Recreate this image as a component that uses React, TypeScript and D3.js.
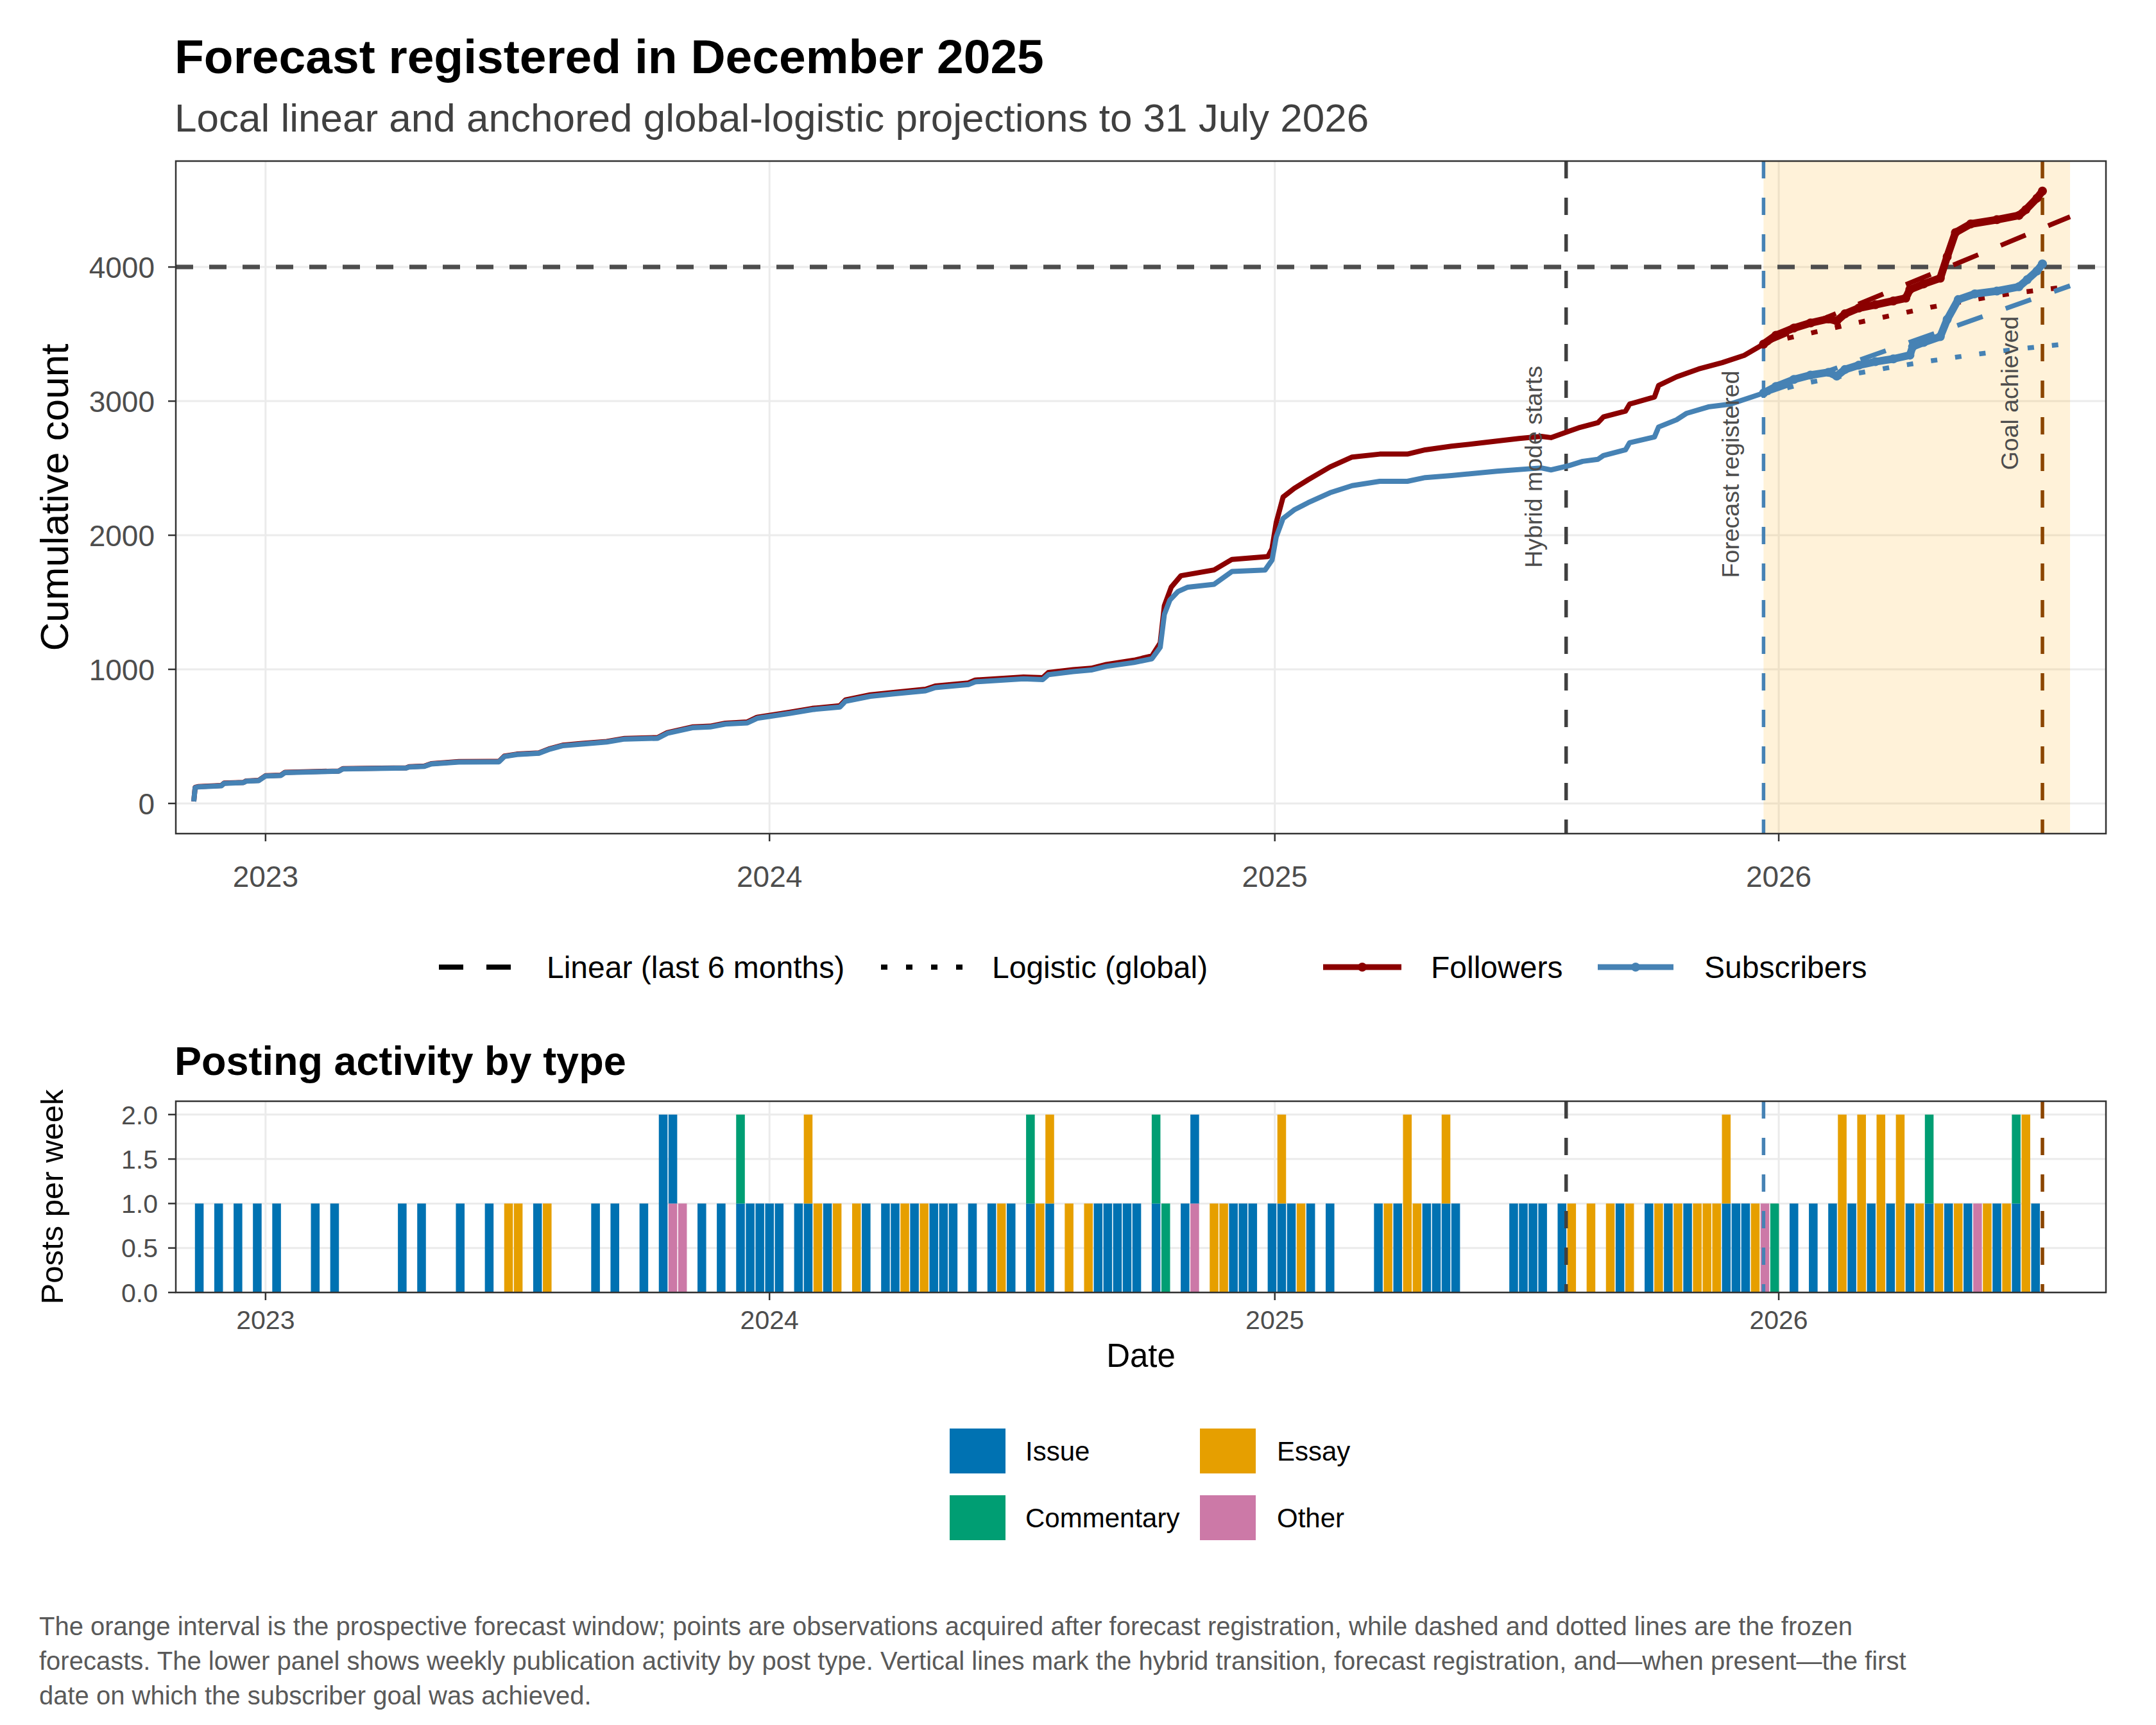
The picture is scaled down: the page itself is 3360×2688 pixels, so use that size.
import React from 'react';
import * as d3 from 'd3';

const W = 3360;
const H = 2688;
const FONT = '"Liberation Sans", Arial, Helvetica, sans-serif';

// cumulative counts
const subscriberObs: [string, number][] = [
  ['2022-11-10', 15], ['2022-11-11', 118], ['2022-11-13', 123], ['2022-11-30', 132],
  ['2022-12-02', 150], ['2022-12-16', 155], ['2022-12-18', 166], ['2022-12-27', 170],
  ['2023-01-01', 205], ['2023-01-12', 208], ['2023-01-15', 230], ['2023-02-23', 240],
  ['2023-02-26', 257], ['2023-04-13', 264], ['2023-04-15', 272], ['2023-04-26', 276],
  ['2023-05-01', 294], ['2023-05-21', 309], ['2023-06-19', 310], ['2023-06-23', 350],
  ['2023-07-02', 365], ['2023-07-18', 374], ['2023-07-26', 405], ['2023-08-04', 430],
  ['2023-08-18', 443], ['2023-09-05', 458], ['2023-09-18', 480], ['2023-10-12', 486],
  ['2023-10-19', 523], ['2023-11-06', 564], ['2023-11-19', 570], ['2023-11-30', 592],
  ['2023-12-16', 601], ['2023-12-23', 635], ['2024-01-16', 672], ['2024-02-01', 700],
  ['2024-02-21', 719], ['2024-02-25', 762], ['2024-03-14', 799], ['2024-04-01', 818],
  ['2024-04-23', 840], ['2024-04-30', 864], ['2024-05-24', 886], ['2024-05-29', 907],
  ['2024-07-03', 929], ['2024-07-17', 924], ['2024-07-21', 961], ['2024-08-08', 983],
  ['2024-08-21', 995], ['2024-09-01', 1022], ['2024-09-21', 1051], ['2024-10-04', 1079],
  ['2024-10-10', 1164], ['2024-10-13', 1410], ['2024-10-17', 1517], ['2024-10-23', 1581],
  ['2024-10-30', 1613], ['2024-11-18', 1634], ['2024-12-01', 1730], ['2024-12-25', 1741],
  ['2024-12-30', 1815], ['2025-01-02', 1986], ['2025-01-07', 2125], ['2025-01-15', 2189],
  ['2025-01-25', 2242], ['2025-02-10', 2317], ['2025-02-26', 2370], ['2025-03-18', 2402],
  ['2025-04-07', 2402], ['2025-04-20', 2430], ['2025-05-09', 2445], ['2025-06-11', 2477],
  ['2025-07-13', 2502], ['2025-07-20', 2487], ['2025-08-02', 2519], ['2025-08-12', 2551],
  ['2025-08-23', 2566], ['2025-08-27', 2594], ['2025-09-12', 2637], ['2025-09-15', 2690],
  ['2025-10-03', 2733], ['2025-10-06', 2807], ['2025-10-19', 2861], ['2025-10-26', 2908],
  ['2025-11-11', 2957], ['2025-11-27', 2978], ['2025-12-14', 3036], ['2025-12-21', 3060],
  ['2025-12-30', 3109], ['2026-01-12', 3162], ['2026-01-24', 3194], ['2026-02-06', 3215],
  ['2026-02-12', 3187], ['2026-02-18', 3236], ['2026-02-28', 3268], ['2026-03-12', 3294],
  ['2026-03-25', 3315], ['2026-04-06', 3343], ['2026-04-08', 3406], ['2026-04-16', 3438],
  ['2026-04-28', 3481], ['2026-05-03', 3609], ['2026-05-11', 3757], ['2026-05-23', 3800],
  ['2026-06-08', 3821], ['2026-06-24', 3853], ['2026-06-30', 3906], ['2026-07-07', 3970],
  ['2026-07-11', 4023],
];

const followerObs: [string, number][] = [
  ['2022-11-10', 15], ['2022-11-11', 120], ['2022-11-13', 125], ['2022-11-30', 134],
  ['2022-12-02', 152], ['2022-12-16', 157], ['2022-12-18', 168], ['2022-12-27', 172],
  ['2023-01-01', 207], ['2023-01-12', 210], ['2023-01-15', 232], ['2023-02-23', 242],
  ['2023-02-26', 259], ['2023-04-13', 266], ['2023-04-15', 274], ['2023-04-26', 279],
  ['2023-05-01', 297], ['2023-05-21', 312], ['2023-06-19', 313], ['2023-06-23', 353],
  ['2023-07-02', 368], ['2023-07-18', 377], ['2023-07-26', 409], ['2023-08-04', 434],
  ['2023-08-18', 447], ['2023-09-05', 462], ['2023-09-18', 485], ['2023-10-12', 491],
  ['2023-10-19', 528], ['2023-11-06', 570], ['2023-11-19', 576], ['2023-11-30', 598],
  ['2023-12-16', 608], ['2023-12-23', 643], ['2024-01-16', 681], ['2024-02-01', 709],
  ['2024-02-21', 729], ['2024-02-25', 772], ['2024-03-14', 810], ['2024-04-01', 829],
  ['2024-04-23', 852], ['2024-04-30', 876], ['2024-05-24', 899], ['2024-05-29', 920],
  ['2024-07-03', 943], ['2024-07-17', 938], ['2024-07-21', 976], ['2024-08-08', 998],
  ['2024-08-21', 1008], ['2024-09-01', 1036], ['2024-09-21', 1068], ['2024-10-04', 1100],
  ['2024-10-10', 1197], ['2024-10-13', 1474], ['2024-10-18', 1613], ['2024-10-25', 1698],
  ['2024-11-18', 1741], ['2024-12-01', 1820], ['2024-12-27', 1841], ['2024-12-30', 1901],
  ['2025-01-02', 2093], ['2025-01-07', 2285], ['2025-01-15', 2349], ['2025-01-25', 2413],
  ['2025-02-10', 2509], ['2025-02-26', 2583], ['2025-03-18', 2605], ['2025-04-07', 2605],
  ['2025-04-20', 2637], ['2025-05-09', 2664], ['2025-06-01', 2690], ['2025-06-27', 2722],
  ['2025-07-13', 2737], ['2025-07-20', 2728], ['2025-08-02', 2775], ['2025-08-09', 2801],
  ['2025-08-23', 2839], ['2025-08-27', 2882], ['2025-09-12', 2925], ['2025-09-15', 2978],
  ['2025-10-03', 3031], ['2025-10-06', 3117], ['2025-10-19', 3181], ['2025-11-04', 3240],
  ['2025-11-21', 3287], ['2025-12-07', 3341], ['2025-12-21', 3425], ['2025-12-30', 3491],
  ['2026-01-12', 3545], ['2026-01-24', 3583], ['2026-02-06', 3613], ['2026-02-12', 3598],
  ['2026-02-18', 3651], ['2026-02-28', 3694], ['2026-03-12', 3719], ['2026-03-25', 3747],
  ['2026-04-03', 3768], ['2026-04-06', 3832], ['2026-04-16', 3874], ['2026-04-28', 3917],
  ['2026-05-03', 4077], ['2026-05-09', 4257], ['2026-05-20', 4321], ['2026-06-08', 4353],
  ['2026-06-24', 4385], ['2026-06-29', 4428], ['2026-07-07', 4513], ['2026-07-11', 4566],
];

// frozen forecasts
const linearFollowers: [string, number][] = [['2025-12-21', 3430], ['2026-07-31', 4375]];
const linearSubscribers: [string, number][] = [['2025-12-21', 3055], ['2026-07-31', 3860]];
const logisticFollowers: [string, number][] = [
  ['2025-12-21', 3430], ['2026-01-21', 3500], ['2026-02-20', 3570], ['2026-03-22', 3635],
  ['2026-04-21', 3700], ['2026-05-21', 3755], ['2026-06-20', 3805], ['2026-07-31', 3855],
];
const logisticSubscribers: [string, number][] = [
  ['2025-12-21', 3055], ['2026-01-21', 3135], ['2026-02-20', 3195], ['2026-03-22', 3250],
  ['2026-04-21', 3300], ['2026-05-21', 3345], ['2026-06-20', 3385], ['2026-07-31', 3430],
];

const goalValue = 4000;
const hybridDate = '2025-07-31';
const forecastDate = '2025-12-21';
const goalDate = '2026-07-11';
const windowEnd = '2026-07-31';

// weekly posts from the first week on; each letter is one post
// I = Issue, E = Essay, C = Commentary, O = Other
const firstWeek = '2022-11-14';
const weeklyPosts: string[] = [
  'I', '', 'I', '', 'I', '', 'I', '', 'I', '', '', '', 'I', '', 'I', '', '', '', '', '',
  '', 'I', '', 'I', '', '', '', 'I', '', '', 'I', '', 'E', 'E', '', 'I', 'E', '', '', '',
  '', 'I', '', 'I', '', '', 'I', '', 'II', 'OI', 'O', '', 'I', '', 'I', '', 'IC', 'I', 'I', 'I',
  'I', '', 'I', 'IE', 'E', 'I', 'E', '', 'E', 'I', '', 'I', 'I', 'E', 'I', 'E', 'I', 'I', 'I', '',
  'I', '', 'I', 'E', 'I', '', 'IC', 'E', 'IE', '', 'E', '', 'E', 'I', 'I', 'I', 'I', 'I', '', 'IC',
  'C', '', 'I', 'OI', '', 'E', 'E', 'I', 'I', 'I', '', 'I', 'IE', 'I', 'E', 'I', '', 'I', '', '',
  '', '', 'I', 'E', 'I', 'EE', 'E', 'I', 'I', 'IE', 'I', '', '', '', '', '', 'I', 'I', 'I', 'I',
  '', 'I', 'E', '', 'E', '', 'E', 'I', 'E', '', 'I', 'E', 'I', 'E', 'I', 'E', 'E', 'E', 'IE', 'I',
  'I', 'E', 'O', 'C', '', 'I', '', 'I', '', 'I', 'EE', 'I', 'EE', 'I', 'EE', 'I', 'EE', 'I', 'E', 'IC',
  'E', 'I', 'E', 'I', 'O', 'E', 'I', 'E', 'IC', 'EE', 'I',
];

const typeCodes: Record<string, string> = { I: 'Issue', E: 'Essay', C: 'Commentary', O: 'Other' };
const stackOrder = ['Other', 'Issue', 'Essay', 'Commentary']; // bottom to top
const typeColors: Record<string, string> = {
  Issue: '#0072B2', Essay: '#E69F00', Commentary: '#009E73', Other: '#CC79A7',
};
const legendRows = [['Issue', 'Essay'], ['Commentary', 'Other']];

const yearTicks = ['2023-01-01', '2024-01-01', '2025-01-01', '2026-01-01'];
const countTicks = [0, 1000, 2000, 3000, 4000];
const postTicks = [0, 0.5, 1, 1.5, 2];

const captionLines = [
  'The orange interval is the prospective forecast window; points are observations acquired after forecast registration, while dashed and dotted lines are the frozen',
  'forecasts. The lower panel shows weekly publication activity by post type. Vertical lines mark the hybrid transition, forecast registration, and\u2014when present\u2014the first',
  'date on which the subscriber goal was achieved.',
];

const RED = '#8B0000';
const BLUE = '#4682B4';
const GOAL = '#8B4500';
const HYBRID = '#404040';

const parse = d3.utcParse('%Y-%m-%d');
const toDate = (s: string) => parse(s) as Date;

const TOP = { left: 274, right: 3282, top: 251, bottom: 1299 };
const BOT = { left: 274, right: 3282, top: 1716, bottom: 2014 };

const App: React.FC = () => {
  const x = d3.scaleUtc()
    .domain([toDate('2022-10-28'), toDate('2026-08-26')])
    .range([TOP.left, TOP.right]);
  const yTop = d3.scaleLinear().domain([-225, 4790]).range([TOP.bottom, TOP.top]);
  const yBot = d3.scaleLinear().domain([0, 2.15]).range([BOT.bottom, BOT.top]);

  const line = d3.line<[string, number]>()
    .x(d => x(toDate(d[0])))
    .y(d => yTop(d[1]));

  const fDate = toDate(forecastDate);
  const inWindow = (rows: [string, number][]) => rows.filter(r => toDate(r[0]) >= fDate);

  // weekly table for the stack
  const weekRows = weeklyPosts.map((code, i) => {
    const row: any = { week: d3.utcDay.offset(toDate(firstWeek), 7 * i) };
    stackOrder.forEach(t => { row[t] = 0; });
    for (const ch of code) row[typeCodes[ch]] += 1;
    return row;
  });
  const stacked = d3.stack<any>().keys(stackOrder)(weekRows);
  const barW = (x(toDate('2023-01-08')) - x(toDate('2023-01-01'))) * 0.9;

  const vlines = [
    { date: hybridDate, color: HYBRID, label: 'Hybrid mode starts', labelY: 2510 },
    { date: forecastDate, color: BLUE, label: 'Forecast registered', labelY: 2455 },
    { date: goalDate, color: GOAL, label: 'Goal achieved', labelY: 3060 },
  ];

  return (
    <svg width={W} height={H} style={{ position: 'absolute', left: 0, top: 0, background: '#fff' }}
      fontFamily={FONT}>
      <rect width={W} height={H} fill="#fff" />

      {/* titles */}
      <text x={272} y={114} fontSize={75} fontWeight="bold" fill="#000">Forecast registered in December 2025</text>
      <text x={272} y={205} fontSize={62} fill="#404040">Local linear and anchored global-logistic projections to 31 July 2026</text>

      {/* ---------- top panel ---------- */}
      <g>
        {countTicks.map(t => (
          <line key={'gy' + t} x1={TOP.left} x2={TOP.right} y1={yTop(t)} y2={yTop(t)} stroke="#EBEBEB" strokeWidth={3} />
        ))}
        {yearTicks.map(t => (
          <line key={'gx' + t} x1={x(toDate(t))} x2={x(toDate(t))} y1={TOP.top} y2={TOP.bottom} stroke="#EBEBEB" strokeWidth={3} />
        ))}
        <rect x={x(fDate)} y={TOP.top} width={x(toDate(windowEnd)) - x(fDate)} height={TOP.bottom - TOP.top}
          fill="#FFA500" fillOpacity={0.15} />
        <line x1={TOP.left} x2={TOP.right} y1={yTop(goalValue)} y2={yTop(goalValue)}
          stroke="#4D4D4D" strokeWidth={7} strokeDasharray="27 25" />
        {vlines.map(v => (
          <line key={'v' + v.date} x1={x(toDate(v.date))} x2={x(toDate(v.date))} y1={TOP.top} y2={TOP.bottom}
            stroke={v.color} strokeWidth={5.5} strokeDasharray="27 30" />
        ))}

        {/* observed series */}
        <path d={line(followerObs) || ''} fill="none" stroke={RED} strokeWidth={8} strokeLinejoin="round" />
        <path d={line(subscriberObs) || ''} fill="none" stroke={BLUE} strokeWidth={8} strokeLinejoin="round" />

        {/* frozen forecasts */}
        <path d={line(linearFollowers) || ''} fill="none" stroke={RED} strokeWidth={7.5} strokeDasharray="42 38" />
        <path d={line(logisticFollowers) || ''} fill="none" stroke={RED} strokeWidth={7.5} strokeDasharray="10 28" />
        <path d={line(linearSubscribers) || ''} fill="none" stroke={BLUE} strokeWidth={7.5} strokeDasharray="42 38" />
        <path d={line(logisticSubscribers) || ''} fill="none" stroke={BLUE} strokeWidth={7.5} strokeDasharray="10 28" />

        {/* observations after registration */}
        <path d={line(inWindow(followerObs)) || ''} fill="none" stroke={RED} strokeWidth={12} strokeLinejoin="round" strokeLinecap="round" />
        <path d={line(inWindow(subscriberObs)) || ''} fill="none" stroke={BLUE} strokeWidth={12} strokeLinejoin="round" strokeLinecap="round" />
        {inWindow(followerObs).map(r => (
          <circle key={'fp' + r[0]} cx={x(toDate(r[0]))} cy={yTop(r[1])} r={7} fill={RED} />
        ))}
        {inWindow(subscriberObs).map(r => (
          <circle key={'sp' + r[0]} cx={x(toDate(r[0]))} cy={yTop(r[1])} r={7} fill={BLUE} />
        ))}

        {vlines.map(v => (
          <text key={'l' + v.date} transform={`translate(${x(toDate(v.date)) - 38},${yTop(v.labelY)}) rotate(-90)`}
            textAnchor="middle" fontSize={37.5} fill="#4D4D4D">{v.label}</text>
        ))}

        <rect x={TOP.left} y={TOP.top} width={TOP.right - TOP.left} height={TOP.bottom - TOP.top}
          fill="none" stroke="#333" strokeWidth={2.5} />

        {countTicks.map(t => (
          <g key={'ty' + t}>
            <line x1={TOP.left - 12} x2={TOP.left} y1={yTop(t)} y2={yTop(t)} stroke="#333" strokeWidth={2.5} />
            <text x={241} y={yTop(t)} dy="0.36em" textAnchor="end" fontSize={46} fill="#4D4D4D">{t}</text>
          </g>
        ))}
        {yearTicks.map(t => (
          <g key={'tx' + t}>
            <line x1={x(toDate(t))} x2={x(toDate(t))} y1={TOP.bottom} y2={TOP.bottom + 12} stroke="#333" strokeWidth={2.5} />
            <text x={x(toDate(t))} y={1382} textAnchor="middle" fontSize={46} fill="#4D4D4D">{t.slice(0, 4)}</text>
          </g>
        ))}
        <text transform={`translate(106,${(TOP.top + TOP.bottom) / 2}) rotate(-90)`} textAnchor="middle"
          fontSize={62} fill="#000">Cumulative count</text>
      </g>

      {/* ---------- top legend ---------- */}
      <g>
        <line x1={684} x2={799} y1={1507} y2={1507} stroke="#000" strokeWidth={8} strokeDasharray="38 36" />
        <text x={852} y={1507} dy="0.36em" fontSize={48} fill="#000">Linear (last 6 months)</text>
        <line x1={1373} x2={1505} y1={1507} y2={1507} stroke="#000" strokeWidth={8} strokeDasharray="10 29" />
        <text x={1546} y={1507} dy="0.36em" fontSize={48} fill="#000">Logistic (global)</text>
        <line x1={2062} x2={2184} y1={1507} y2={1507} stroke={RED} strokeWidth={9} />
        <circle cx={2123} cy={1507} r={7} fill={RED} />
        <text x={2230} y={1507} dy="0.36em" fontSize={48} fill="#000">Followers</text>
        <line x1={2490} x2={2608} y1={1507} y2={1507} stroke={BLUE} strokeWidth={9} />
        <circle cx={2549} cy={1507} r={7} fill={BLUE} />
        <text x={2656} y={1507} dy="0.36em" fontSize={48} fill="#000">Subscribers</text>
      </g>

      {/* ---------- bottom panel ---------- */}
      <text x={272} y={1675} fontSize={63} fontWeight="bold" fill="#000">Posting activity by type</text>
      <g>
        {postTicks.map(t => (
          <line key={'bgy' + t} x1={BOT.left} x2={BOT.right} y1={yBot(t)} y2={yBot(t)} stroke="#EBEBEB" strokeWidth={3} />
        ))}
        {yearTicks.map(t => (
          <line key={'bgx' + t} x1={x(toDate(t))} x2={x(toDate(t))} y1={BOT.top} y2={BOT.bottom} stroke="#EBEBEB" strokeWidth={3} />
        ))}
        {stacked.map(s => (
          <g key={'s' + s.key} fill={typeColors[s.key]}>
            {s.filter(seg => seg[1] > seg[0]).map(seg => (
              <rect key={+seg.data.week} x={x(seg.data.week) - barW / 2} width={barW}
                y={yBot(seg[1])} height={yBot(seg[0]) - yBot(seg[1])} />
            ))}
          </g>
        ))}
        {vlines.map(v => (
          <line key={'bv' + v.date} x1={x(toDate(v.date))} x2={x(toDate(v.date))} y1={BOT.top} y2={BOT.bottom}
            stroke={v.color} strokeWidth={5.5} strokeDasharray="27 30" />
        ))}
        <rect x={BOT.left} y={BOT.top} width={BOT.right - BOT.left} height={BOT.bottom - BOT.top}
          fill="none" stroke="#333" strokeWidth={2.5} />
        {postTicks.map(t => (
          <g key={'bty' + t}>
            <line x1={BOT.left - 12} x2={BOT.left} y1={yBot(t)} y2={yBot(t)} stroke="#333" strokeWidth={2.5} />
            <text x={246} y={yBot(t)} dy="0.36em" textAnchor="end" fontSize={41} fill="#4D4D4D">{t.toFixed(1)}</text>
          </g>
        ))}
        {yearTicks.map(t => (
          <g key={'btx' + t}>
            <line x1={x(toDate(t))} x2={x(toDate(t))} y1={BOT.bottom} y2={BOT.bottom + 12} stroke="#333" strokeWidth={2.5} />
            <text x={x(toDate(t))} y={2071} textAnchor="middle" fontSize={41} fill="#4D4D4D">{t.slice(0, 4)}</text>
          </g>
        ))}
        <text transform={`translate(98,${(BOT.top + BOT.bottom) / 2}) rotate(-90)`} textAnchor="middle"
          fontSize={49} fill="#000">Posts per week</text>
        <text x={(BOT.left + BOT.right) / 2} y={2130} textAnchor="middle" fontSize={51} fill="#000">Date</text>
      </g>

      {/* ---------- bottom legend ---------- */}
      <g>
        {legendRows.map((row, ri) => row.map((name, ci) => (
          <g key={name}>
            <rect x={1480 + ci * 390} y={2226 + ri * 104} width={87} height={70} fill={typeColors[name]} />
            <text x={1598 + ci * 392} y={2261 + ri * 104} dy="0.36em" fontSize={42} fill="#000">{name}</text>
          </g>
        )))}
      </g>

      {/* caption */}
      {captionLines.map((c, i) => (
        <text key={'c' + i} x={61} y={2548 + i * 54} fontSize={40} fill="#595959">{c}</text>
      ))}
    </svg>
  );
};

export default App;
